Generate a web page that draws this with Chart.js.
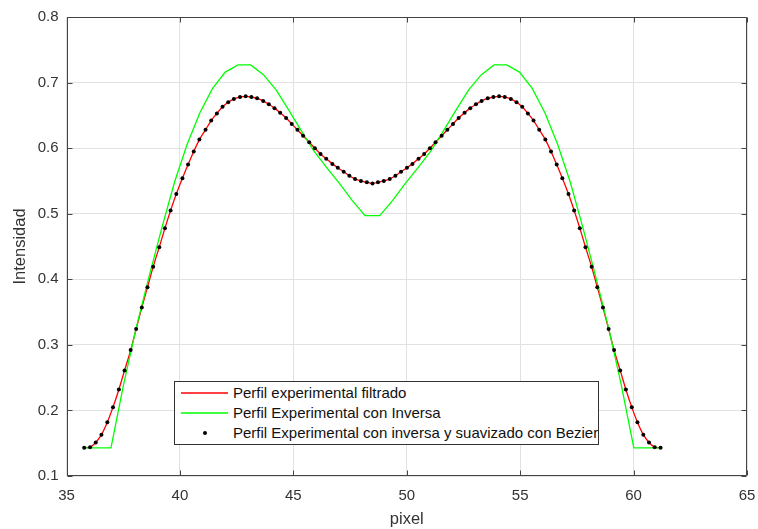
<!DOCTYPE html>
<html>
<head>
<meta charset="utf-8">
<script src="https://cdn.jsdelivr.net/npm/chart.js@4.4.0/dist/chart.umd.min.js"></script>
<style>
  body{margin:0;background:#fff;}
  #wrap{position:relative;width:758px;height:529px;}
  #legend{position:absolute;left:174px;top:381px;width:423px;height:62px;border:1px solid #333;background:#fff;
    font-family:"Liberation Sans",Arial,sans-serif;font-size:15px;color:#111;}
  .row{position:absolute;left:0;height:20px;line-height:20px;white-space:nowrap;}
  .sw{position:absolute;left:6px;top:8px;}
  .txt{position:absolute;left:58px;top:0;}
</style>
</head>
<body>
<div id="wrap">
  <canvas id="chart" width="758" height="529"></canvas>
  <div id="legend">
    <div class="row" style="top:1px"><svg class="sw" width="47" height="4"><line x1="0" y1="2" x2="47" y2="2" stroke="#ff0000" stroke-width="1.4"/></svg><span class="txt">Perfil experimental filtrado</span></div>
    <div class="row" style="top:21px"><svg class="sw" width="47" height="4"><line x1="0" y1="2" x2="47" y2="2" stroke="#00ff00" stroke-width="1.4"/></svg><span class="txt">Perfil Experimental con Inversa</span></div>
    <div class="row" style="top:41px"><svg class="sw" width="47" height="4"><circle cx="24" cy="2" r="2" fill="#000"/></svg><span class="txt">Perfil Experimental con inversa y suavizado con Bezier</span></div>
  </div>
</div>
<script>
// pixel positions of the profile samples (shared by filtered and Bezier series)
const pixelX = [35.78,36.04,36.29,36.54,36.80,37.05,37.31,37.56,37.83,38.07,38.32,38.57,38.82,39.09,39.34,39.59,39.84,40.11,40.36,40.61,
  40.86,41.13,41.38,41.63,41.88,42.13,42.38,42.65,42.90,43.15,43.40,43.67,43.92,44.17,44.42,44.68,44.93,45.18,45.43,45.70,
  45.95,46.20,46.45,46.72,46.96,47.22,47.47,47.72,47.98,48.24,48.49,48.73,48.99,49.25,49.50,49.75,50.01,50.25,50.52,50.77,
  51.02,51.27,51.54,51.79,52.04,52.29,52.55,52.80,53.05,53.30,53.57,53.82,54.07,54.32,54.59,54.84,55.09,55.34,55.59,55.84,
  56.11,56.36,56.61,56.86,57.13,57.38,57.63,57.88,58.15,58.40,58.65,58.90,59.14,59.41,59.66,59.92,60.17,60.43,60.68,60.93,61.19];
const filtrado = [0.143,0.144,0.151,0.163,0.182,0.205,0.232,0.261,0.292,0.324,0.357,0.388,0.419,0.449,0.478,0.505,0.530,0.554,0.575,0.595,
  0.613,0.628,0.642,0.653,0.663,0.670,0.675,0.678,0.679,0.678,0.676,0.672,0.667,0.661,0.654,0.646,0.637,0.628,0.619,0.609,
  0.600,0.591,0.584,0.576,0.570,0.564,0.558,0.553,0.550,0.548,0.546,0.548,0.550,0.553,0.558,0.564,0.570,0.576,0.584,0.591,
  0.600,0.609,0.619,0.628,0.637,0.646,0.654,0.661,0.667,0.672,0.676,0.678,0.679,0.678,0.675,0.670,0.663,0.653,0.642,0.628,
  0.613,0.595,0.575,0.554,0.530,0.505,0.478,0.449,0.419,0.388,0.357,0.324,0.292,0.261,0.232,0.205,0.182,0.163,0.151,0.144,0.143];
const bezier = filtrado.slice();

const inversaX = [35.78,36.96,37.52,38.08,38.64,39.20,39.76,40.32,40.88,41.44,42.00,42.56,43.12,43.68,44.24,44.80,45.36,45.92,46.48,47.04,47.60,48.16,
  48.81,49.37,49.93,50.49,51.05,51.61,52.17,52.73,53.29,53.85,54.41,54.97,55.53,56.09,56.65,57.21,57.77,58.33,58.89,59.45,60.01,61.19];
const inversaY = [0.143,0.143,0.240,0.327,0.404,0.478,0.548,0.606,0.654,0.691,0.716,0.727,0.727,0.712,0.689,0.658,0.626,0.595,0.570,0.546,0.520,0.497,
  0.497,0.520,0.546,0.570,0.595,0.626,0.658,0.689,0.712,0.727,0.727,0.716,0.691,0.654,0.606,0.548,0.478,0.404,0.327,0.240,0.143,0.143];

const xTicks = [35,40,45,50,55,60,65];
const yTicks = [0.1,0.2,0.3,0.4,0.5,0.6,0.7,0.8];

const pts = (xs, ys) => xs.map((x, i) => ({x: x, y: ys[i]}));

const boxPlugin = {
  id: 'box',
  afterDraw(chart){
    const {ctx, chartArea: a, scales: {x, y}} = chart;
    ctx.save();
    ctx.strokeStyle = '#444'; ctx.lineWidth = 1;
    const L = Math.round(a.left)+0.5, R = Math.round(a.right)-0.5, T = Math.round(a.top)+0.5, B = Math.round(a.bottom)-0.5;
    ctx.beginPath();
    ctx.rect(L, T, R-L, B-T);
    xTicks.forEach(v => { const p = Math.round(x.getPixelForValue(v))+0.5;
      ctx.moveTo(p, B); ctx.lineTo(p, B-5); ctx.moveTo(p, T); ctx.lineTo(p, T+5); });
    yTicks.forEach(v => { const p = Math.round(y.getPixelForValue(v))+0.5;
      ctx.moveTo(L, p); ctx.lineTo(L+5, p); ctx.moveTo(R, p); ctx.lineTo(R-5, p); });
    ctx.stroke();
    ctx.restore();
  }
};

Chart.defaults.font.family = '"Liberation Sans", Arial, sans-serif';
Chart.defaults.color = '#333';

new Chart(document.getElementById('chart'), {
  type: 'scatter',
  data: {
    datasets: [
      {label: 'Perfil experimental filtrado', data: pts(pixelX, filtrado), showLine: true, borderColor: '#ff0000', borderWidth: 1.3, pointRadius: 0, tension: 0.3, order: 3},
      {label: 'Perfil Experimental con Inversa', data: pts(inversaX, inversaY), showLine: true, borderColor: '#00ff00', borderWidth: 1.3, pointRadius: 0, tension: 0, order: 2},
      {label: 'Perfil Experimental con inversa y suavizado con Bezier', data: pts(pixelX, bezier), showLine: false, pointRadius: 2, pointBackgroundColor: '#000', pointBorderWidth: 0, order: 1}
    ]
  },
  options: {
    responsive: false, animation: false, devicePixelRatio: 1,
    layout: {padding: {left: 0, right: 11, top: 14, bottom: 0}},
    plugins: {legend: {display: false}, tooltip: {enabled: false}},
    scales: {
      x: {
        type: 'linear', min: 35, max: 65,
        afterBuildTicks: s => { s.ticks = xTicks.map(v => ({value: v})); },
        afterFit: s => { s.height = 53; s.paddingLeft = 0; s.paddingRight = 0; },
        grid: {color: '#e2e2e2', drawTicks: false},
        border: {display: false},
        ticks: {font: {size: 15}, padding: 11, maxRotation: 0},
        title: {display: true, text: 'pixel', font: {size: 16.5}, padding: {top: 0, bottom: 0}}
      },
      y: {
        min: 0.1, max: 0.8,
        afterBuildTicks: s => { s.ticks = yTicks.map(v => ({value: v})); },
        afterFit: s => { s.width = 66.5; },
        grid: {color: '#e2e2e2', drawTicks: false},
        border: {display: false},
        ticks: {font: {size: 15}, padding: 8, callback: v => v.toFixed(1)},
        title: {display: true, text: 'Intensidad', font: {size: 16.5}, padding: {top: 11, bottom: 0}}
      }
    }
  },
  plugins: [boxPlugin]
});
</script>
</body>
</html>
